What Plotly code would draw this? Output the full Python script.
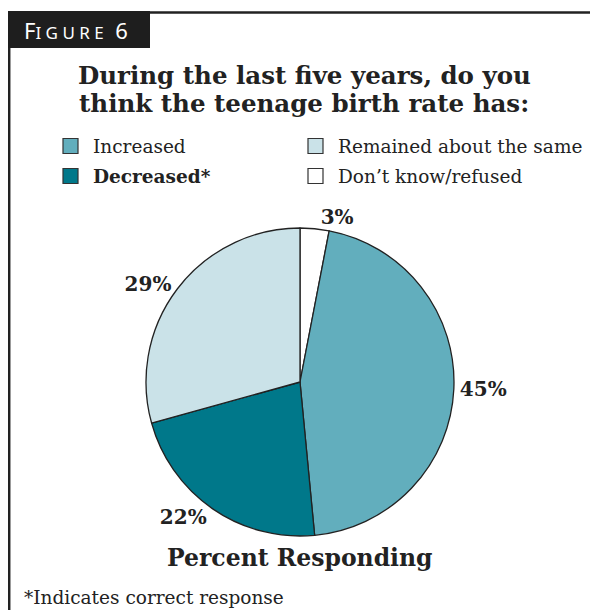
import plotly.graph_objects as go

# Data
slice_labels = ["Don\u2019t know/refused", "Increased", "Decreased*", "Remained about the same"]
slice_values = [3, 45, 22, 29]
slice_colors = ["#FFFFFF", "#62AEBD", "#00788A", "#CAE2E8"]

legend_order = ["Increased", "Remained about the same", "Decreased*", "Don\u2019t know/refused"]
legend_bold = [False, False, True, False]

title_lines = ["During the last five years, do you", "think the teenage birth rate has:"]

# page body has an 8px margin: figure occupies the rest of the window
OX, OY = 8, 8
W, H = 598 - OX, 610 - OY
SERIF = "DejaVu Serif"
INK = "#222222"


def fx(x):
    return (x - OX) / W


def fy(y):
    return 1 - (y - OY) / H


fig = go.Figure()
fig.add_trace(go.Pie(
    labels=slice_labels,
    values=slice_values,
    sort=False,
    direction="clockwise",
    rotation=0,
    marker=dict(colors=slice_colors, line=dict(color=INK, width=1.3)),
    text=[f"<b>{v}%</b>" for v in slice_values],
    textinfo="text",
    textposition="outside",
    outsidetextfont=dict(family=SERIF, size=20, color=INK),
    showlegend=False,
    hoverinfo="skip",
    domain=dict(x=[fx(146), fx(454)], y=[fy(536), fy(228)]),
))

shapes = []
annotations = []

# frame
shapes.append(dict(type="line", xref="paper", yref="paper", x0=fx(8), x1=1, y0=fy(12.5), y1=fy(12.5),
                   line=dict(color=INK, width=2.5)))
shapes.append(dict(type="line", xref="paper", yref="paper", x0=fx(9.2), x1=fx(9.2), y0=0, y1=fy(12),
                   line=dict(color=INK, width=2.5)))
# figure tab
shapes.append(dict(type="rect", xref="paper", yref="paper", x0=fx(8), x1=fx(150), y0=fy(48), y1=fy(11),
                   fillcolor="#1E1E1E", line=dict(width=0)))
annotations.append(dict(
    xref="paper", yref="paper", x=fx(22), y=fy(30), xanchor="left", yanchor="middle",
    text="F<span style='font-size:17px'>I G U R E</span>  6",
    showarrow=False, font=dict(family="Noto Sans", size=22, color="white")))

# title
for i, line in enumerate(title_lines):
    annotations.append(dict(
        xref="paper", yref="paper", x=fx(304), y=fy(76 + 28 * i), xanchor="center", yanchor="middle",
        text=f"<b>{line}</b>", showarrow=False, font=dict(family=SERIF, size=24.5, color=INK)))

# legend (manual 2x2)
col_x = [63, 308]
row_y = [146, 176]
color_of = dict(zip(slice_labels, slice_colors))
for i, lab in enumerate(legend_order):
    cx = col_x[i % 2]
    cy = row_y[i // 2]
    shapes.append(dict(type="rect", xref="paper", yref="paper",
                       x0=fx(cx), x1=fx(cx + 15), y0=fy(cy + 7.5), y1=fy(cy - 7.5),
                       fillcolor=color_of[lab], line=dict(color="#333333", width=1.2)))
    t = f"<b>{lab}</b>" if legend_bold[i] else lab
    annotations.append(dict(xref="paper", yref="paper", x=fx(cx + 28), y=fy(cy),
                            xanchor="left", yanchor="middle", text=t, showarrow=False,
                            font=dict(family=SERIF, size=18.5, color=INK)))

annotations.append(dict(xref="paper", yref="paper", x=fx(300), y=fy(558), xanchor="center", yanchor="middle",
                        text="<b>Percent Responding</b>", showarrow=False,
                        font=dict(family=SERIF, size=23.5, color=INK)))
annotations.append(dict(xref="paper", yref="paper", x=fx(22), y=fy(597), xanchor="left", yanchor="middle",
                        text="*Indicates correct response", showarrow=False,
                        font=dict(family=SERIF, size=18.5, color=INK)))

fig.update_layout(
    width=W, height=H,
    margin=dict(l=0, r=0, t=0, b=0),
    paper_bgcolor="white", plot_bgcolor="white",
    shapes=shapes, annotations=annotations,
)

fig.write_html("out.html")
